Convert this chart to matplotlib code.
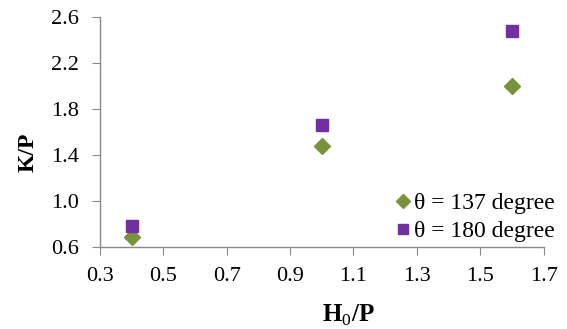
import matplotlib.pyplot as plt

plt.rcParams['font.family'] = ['Liberation Serif', 'DejaVu Serif']
plt.rcParams['mathtext.fontset'] = 'custom'
plt.rcParams['mathtext.rm'] = 'Liberation Serif'
plt.rcParams['mathtext.bf'] = 'Liberation Serif:bold'

h0_p = [0.4, 1.0, 1.6]
kp_137 = [0.69, 1.48, 2.00]
kp_180 = [0.78, 1.66, 2.48]

fig = plt.figure(figsize=(5.67, 3.29), dpi=100)
ax = fig.add_axes([0.176, 0.249, 0.783, 0.699])

ax.plot(h0_p, kp_137, 'D', color='#77933C', markersize=8, label='θ = 137 degree',
        clip_on=False)
ax.plot(h0_p, kp_180, 's', color='#7030A0', markersize=8.5, label='θ = 180 degree',
        clip_on=False)

ax.set_xlim(0.3, 1.7)
ax.set_ylim(0.6, 2.6)
ax.set_xticks([0.3, 0.5, 0.7, 0.9, 1.1, 1.3, 1.5, 1.7])
ax.set_yticks([0.6, 1.0, 1.4, 1.8, 2.2, 2.6])
ax.xaxis.set_major_formatter(plt.FormatStrFormatter('%.1f'))
ax.yaxis.set_major_formatter(plt.FormatStrFormatter('%.1f'))

for s in ['top', 'right']:
    ax.spines[s].set_visible(False)
for s in ['left', 'bottom']:
    ax.spines[s].set_color('#898989')
    ax.spines[s].set_linewidth(1)
ax.tick_params(direction='out', length=6, color='#898989', labelsize=16)
ax.tick_params(axis='x', pad=8)
ax.tick_params(axis='y', pad=9)

ax.set_xlabel('H$_\\mathrm{0}$/P', fontsize=18, fontweight='bold')
ax.set_ylabel('K/P', fontsize=17, fontweight='bold')
ax.xaxis.set_label_coords(0.559, -0.243)
ax.yaxis.set_label_coords(-0.137, 0.413)

ax.legend(loc='lower right', frameon=False, fontsize=17, handletextpad=0.05,
          handlelength=0.8, borderaxespad=0.0, borderpad=0.0, labelspacing=0.3,
          markerscale=0.9, bbox_to_anchor=(1.025, 0.02))

fig.savefig('out.png', dpi=100)
